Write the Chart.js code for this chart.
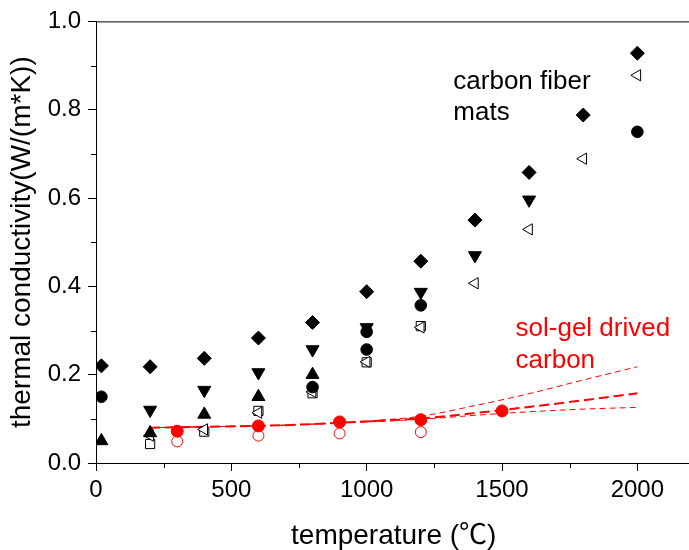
<!DOCTYPE html>
<html>
<head>
<meta charset="utf-8">
<script src="https://cdn.jsdelivr.net/npm/chart.js@4.4.1/dist/chart.umd.min.js"></script>
<style>
html, body { margin: 0; padding: 0; background: #fff; overflow: hidden; }
#wrap { width: 700px; height: 550px; }
</style>
</head>
<body>
<div id="wrap"><canvas id="tcChart" width="700" height="550"></canvas></div>
<script>
const FONT = "'Liberation Sans', Arial, 'Noto Sans CJK SC', sans-serif";

// carbon fiber mats (black symbols)
const diamondT = [20, 200, 400, 600, 800, 1000, 1200, 1400, 1600, 1800, 2000];
const diamondK = [0.22, 0.218, 0.237, 0.283, 0.318, 0.388, 0.457, 0.55, 0.658, 0.788, 0.928];
const downT = [200, 400, 600, 800, 1000, 1200, 1400, 1600];
const downK = [0.12, 0.165, 0.205, 0.257, 0.307, 0.387, 0.47, 0.596];
const upT = [20, 200, 400, 600, 800];
const upK = [0.05, 0.068, 0.11, 0.15, 0.2];
const circleT = [20, 800, 1000, 1000, 1200, 2000];
const circleK = [0.15, 0.172, 0.257, 0.297, 0.357, 0.75];
const leftT = [200, 400, 600, 800, 1000, 1200, 1400, 1600, 1800, 2000];
const leftK = [0.062, 0.076, 0.114, 0.161, 0.229, 0.307, 0.407, 0.529, 0.689, 0.878];
const squareT = [200, 400, 600, 800, 1000, 1200];
const squareK = [0.043, 0.071, 0.118, 0.158, 0.228, 0.31];

// sol-gel derived carbon (red)
const solT = [300, 600, 900, 1200, 1500];
const solK = [0.072, 0.084, 0.093, 0.098, 0.118];
const solOpenT = [300, 600, 900, 1200];
const solOpenK = [0.049, 0.062, 0.067, 0.07];

// fitted curves
const fitT = [200, 400, 600, 800, 1000, 1200, 1400, 1600, 1800, 2000];
const fitMid = [0.080, 0.082, 0.084, 0.088, 0.094, 0.101, 0.113, 0.127, 0.142, 0.158];
const fitUpper = [0.080, 0.082, 0.084, 0.088, 0.095, 0.106, 0.130, 0.157, 0.188, 0.218];
const fitLower = [0.080, 0.082, 0.084, 0.088, 0.093, 0.099, 0.108, 0.116, 0.122, 0.126];

const xTickValues = [0, 250, 500, 750, 1000, 1250, 1500, 1750, 2000];
const xTickLabels = ['0', '500', '1000', '1500', '2000'];
const yTickValues = [0, 0.1, 0.2, 0.3, 0.4, 0.5, 0.6, 0.7, 0.8, 0.9, 1.0];
const yTickLabels = ['0.0', '0.2', '0.4', '0.6', '0.8', '1.0'];

function pts(xs, ys) { return xs.map((x, i) => ({ x: x, y: ys[i] })); }
const isMajorX = v => v % 500 === 0;
const isMajorY = v => Math.round(v * 10) % 2 === 0;

function markers(label, xs, ys, style, opts) {
    return Object.assign({
        type: 'scatter', label: label, data: pts(xs, ys), pointStyle: style,
        pointRadius: 6.5, pointBackgroundColor: '#000', pointBorderColor: '#000',
        pointBorderWidth: 1, clip: 0
    }, opts || {});
}

function fitLine(label, ys, width, dash) {
    return {
        type: 'line', label: label, data: pts(fitT, ys), borderColor: '#ff0000',
        borderWidth: width, borderDash: dash, pointRadius: 0, fill: false,
        cubicInterpolationMode: 'monotone', clip: 0
    };
}

// minor ticks, frame and text labels
const extras = {
    id: 'extras',
    afterDraw(chart) {
        const c = chart.ctx, a = chart.chartArea, xs = chart.scales.x, ys = chart.scales.y;
        c.save();
        c.strokeStyle = '#000'; c.lineWidth = 1;
        c.beginPath();
        c.moveTo(a.left, a.top + 0.5); c.lineTo(a.right, a.top + 0.5);
        c.moveTo(a.right - 0.5, a.top); c.lineTo(a.right - 0.5, a.bottom);
        xTickValues.filter(v => !isMajorX(v)).forEach(v => {
            const px = Math.round(xs.getPixelForValue(v)) + 0.5;
            c.moveTo(px, a.bottom); c.lineTo(px, a.bottom + 5);
        });
        yTickValues.filter(v => !isMajorY(v)).forEach(v => {
            const py = Math.round(ys.getPixelForValue(v)) + 0.5;
            c.moveTo(a.left, py); c.lineTo(a.left - 5, py);
        });
        c.stroke();

        c.font = '26px ' + FONT;
        c.textAlign = 'left'; c.textBaseline = 'alphabetic';
        c.fillStyle = '#000';
        c.fillText('carbon fiber', xs.getPixelForValue(1320), ys.getPixelForValue(0.848));
        c.fillText('mats', xs.getPixelForValue(1320), ys.getPixelForValue(0.776));
        c.fillStyle = '#ff0000';
        c.fillText('sol-gel drived', xs.getPixelForValue(1550), ys.getPixelForValue(0.288));
        c.fillText('carbon', xs.getPixelForValue(1550), ys.getPixelForValue(0.215));
        c.restore();
    }
};

new Chart(document.getElementById('tcChart'), {
    type: 'scatter',
    data: {
        datasets: [
            markers('diamond', diamondT, diamondK, 'rectRot', { pointRadius: 7 }),
            markers('down', downT, downK, 'triangle', { pointRotation: 180, pointRadius: 7.5 }),
            markers('up', upT, upK, 'triangle', { pointRadius: 7.5 }),
            markers('circle', circleT, circleK, 'circle', { pointRadius: 5.8 }),
            markers('left', leftT, leftK, 'triangle', { pointRotation: -90, pointRadius: 6.5, pointBackgroundColor: '#fff' }),
            markers('square', squareT, squareK, 'rect', { pointRadius: 6.5, pointBackgroundColor: '#fff' }),
            markers('sol', solT, solK, 'circle', { pointRadius: 6, pointBackgroundColor: '#ff0000', pointBorderColor: '#ff0000' }),
            markers('solOpen', solOpenT, solOpenK, 'circle', { pointRadius: 5.5, pointBackgroundColor: '#fff', pointBorderColor: '#ff0000' }),
            fitLine('fit', fitMid, 2, [10, 5]),
            fitLine('fitUpper', fitUpper, 1, [6, 4]),
            fitLine('fitLower', fitLower, 1, [6, 4])
        ]
    },
    options: {
        responsive: false,
        animation: false,
        layout: { padding: { top: 21, right: 8, left: 0, bottom: 0 } },
        plugins: { legend: { display: false }, tooltip: { enabled: false } },
        scales: {
            x: {
                type: 'linear', min: 0, max: 2200,
                afterFit: s => { s.height = 87; },
                afterBuildTicks: s => { s.ticks = xTickValues.map(v => ({ value: v })); },
                border: { display: true, color: '#000', width: 1 },
                grid: {
                    drawOnChartArea: false, drawTicks: true, tickLength: 8,
                    tickColor: ctx => (ctx.tick && isMajorX(ctx.tick.value)) ? '#000' : 'rgba(0,0,0,0)'
                },
                ticks: {
                    autoSkip: false, maxRotation: 0, padding: 5,
                    color: '#000', font: { size: 24, family: FONT },
                    callback: v => isMajorX(v) ? xTickLabels[v / 500] : ''
                },
                title: {
                    display: true, text: 'temperature (℃)', color: '#000',
                    font: { size: 28, family: FONT }, padding: { top: 0, bottom: -3 }
                }
            },
            y: {
                type: 'linear', min: 0, max: 1.0,
                afterFit: s => { s.width = 96; },
                afterBuildTicks: s => { s.ticks = yTickValues.map(v => ({ value: v })); },
                border: { display: true, color: '#000', width: 1 },
                grid: {
                    drawOnChartArea: false, drawTicks: true, tickLength: 8,
                    tickColor: ctx => (ctx.tick && isMajorY(ctx.tick.value)) ? '#000' : 'rgba(0,0,0,0)'
                },
                ticks: {
                    autoSkip: false, padding: 7,
                    color: '#000', font: { size: 24, family: FONT },
                    callback: v => isMajorY(v) ? yTickLabels[Math.round(v * 5)] : ''
                },
                title: {
                    display: true, text: 'thermal conductivity(W/(m*K))', color: '#000',
                    font: { size: 28, family: FONT }, padding: { top: 5, bottom: 0 }
                }
            }
        }
    },
    plugins: [extras]
});
</script>
</body>
</html>
